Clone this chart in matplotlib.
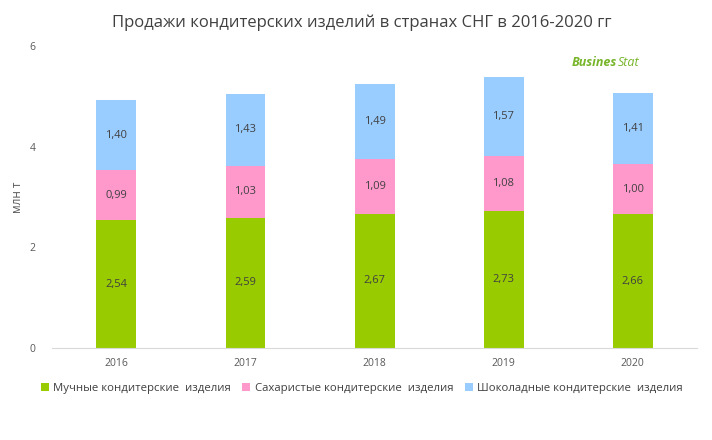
import matplotlib
matplotlib.use("Agg")
import matplotlib.pyplot as plt
import numpy as np

plt.rcParams['font.family'] = ['Open Sans', 'DejaVu Sans']

years = ["2016", "2017", "2018", "2019", "2020"]
flour = [2.54, 2.59, 2.67, 2.73, 2.66]
sugar = [0.99, 1.03, 1.09, 1.08, 1.00]
choco = [1.40, 1.43, 1.49, 1.57, 1.41]
series_names = ["Мучные кондитерские  изделия", "Сахаристые кондитерские  изделия",
                "Шоколадные кондитерские  изделия"]
colors = ["#99CC00", "#FF99CC", "#99CCFF"]

fig = plt.figure(figsize=(7.12, 4.4), dpi=100)
ax = fig.add_axes([0.073, 0.209, 0.906, 0.686])

x = np.arange(len(years))
w = 0.31
bottom = np.zeros(len(years))
bars = []
for vals, c, name in zip([flour, sugar, choco], colors, series_names):
    b = ax.bar(x, vals, w, bottom=bottom, color=c, label=name, zorder=2)
    for xi, v, b0 in zip(x, vals, bottom):
        ax.text(xi, b0 + v / 2, f"{v:.2f}".replace(".", ","), ha="center", va="center",
                fontsize=8, color="#404040", zorder=3)
    bottom = bottom + np.array(vals)
    bars.append(b)

ax.set_xlim(-0.5, len(years) - 0.5)
ax.set_ylim(0, 6)
ax.set_yticks([0, 2, 4, 6])
ax.set_yticklabels(["0", "2", "4", "6"])
ax.set_xticks(x)
ax.set_xticklabels(years)
ax.tick_params(axis="both", length=0, labelsize=7.5, colors="#595959")
ax.tick_params(axis="y", pad=12)
ax.tick_params(axis="x", pad=7)
for s in ["top", "right", "left"]:
    ax.spines[s].set_visible(False)
ax.spines["bottom"].set_color("#D9D9D9")
ax.set_ylabel("млн т", fontsize=8.5, color="#595959", labelpad=4)

fig.text(0.508, 0.948, "Продажи кондитерских изделий в странах СНГ в 2016-2020 гг",
         ha="center", va="center", fontsize=12, color="#404040")

# logo
t1 = fig.text(0.803, 0.858, "Busines", ha="left", va="center", fontsize=9, fontweight="bold",
              style="italic", color="#77B52A")
fig.canvas.draw()
bb = t1.get_window_extent()
fig.text((bb.x1 + 0.5) / fig.bbox.width, 0.858, "Stat", ha="left", va="center", fontsize=9,
         style="italic", color="#77B52A")

leg = fig.legend(handles=bars, labels=series_names, loc="center", bbox_to_anchor=(0.508, 0.118),
                 ncol=3, frameon=False, fontsize=8.2, handlelength=0.7, handleheight=0.7,
                 handletextpad=0.4, columnspacing=1.0)
for t in leg.get_texts():
    t.set_color("#404040")

fig.savefig("out.png", dpi=100)
